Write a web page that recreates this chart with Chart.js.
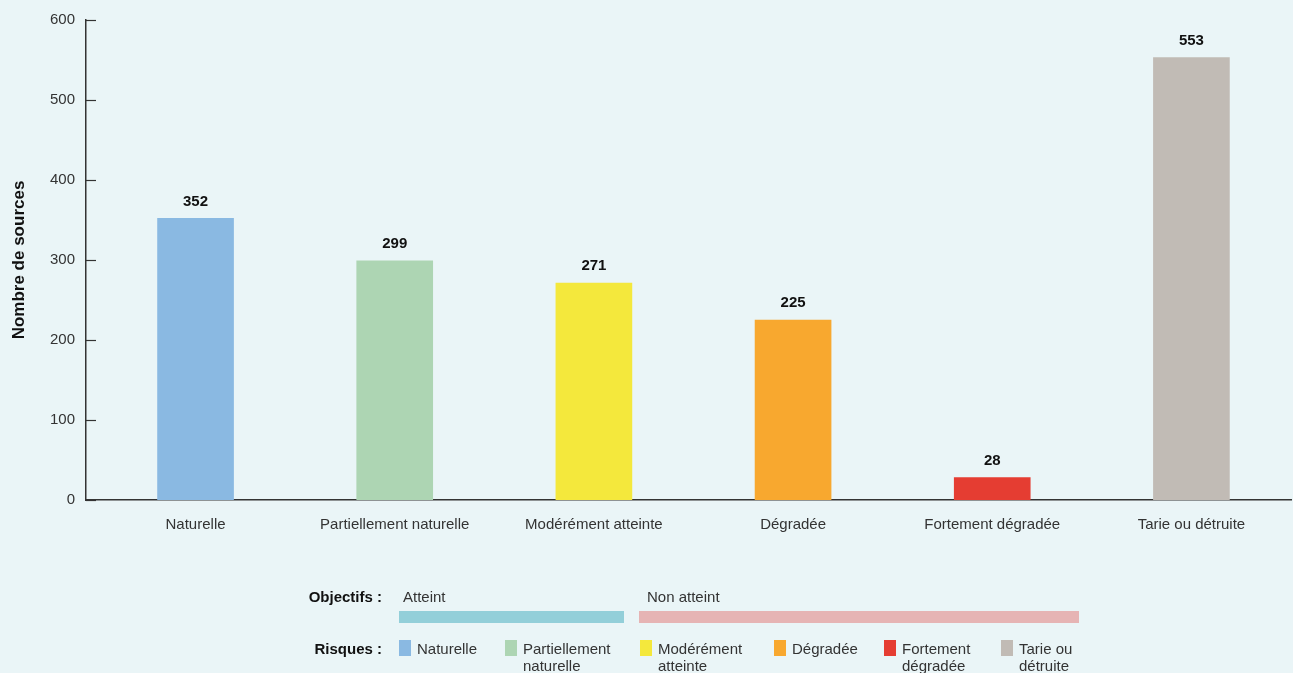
<!DOCTYPE html>
<html>
<head>
<meta charset="utf-8">
<script src="https://cdn.jsdelivr.net/npm/chart.js@4/dist/chart.umd.min.js"></script>
<style>
  html, body { margin: 0; padding: 0; background: #EAF5F7; }
  #wrap { position: relative; width: 1293px; height: 673px; overflow: hidden; font-family: "Liberation Sans", Arial, sans-serif; color: #333; }
  #c { position: absolute; left: 0; top: 0; }
  .t { position: absolute; font-size: 15px; line-height: 17px; white-space: nowrap; }
  .b { font-weight: bold; color: #111; }
  .bar { position: absolute; height: 12px; }
  .sq { position: absolute; width: 12px; height: 16px; }
</style>
</head>
<body>
<div id="wrap">
  <canvas id="c" width="1293" height="673"></canvas>
</div>
<script>
const categories = ["Naturelle", "Partiellement naturelle", "Modérément atteinte", "Dégradée", "Fortement dégradée", "Tarie ou détruite"];
const values = [352, 299, 271, 225, 28, 553];
const barColors = ["#8AB9E2", "#ADD5B3", "#F4E83C", "#F8A82F", "#E53D32", "#C1BBB5"];
const yTicks = [0, 100, 200, 300, 400, 500, 600];
const legendLabels = [["Naturelle"], ["Partiellement", "naturelle"], ["Modérément", "atteinte"], ["Dégradée"], ["Fortement", "dégradée"], ["Tarie ou", "détruite"]];
const objectifLabels = ["Atteint", "Non atteint"];
const objectifColors = ["#93CFD9", "#E6B4B4"];

const valueLabels = {
  id: 'valueLabels',
  afterDatasetsDraw(chart) {
    const ctx = chart.ctx;
    const meta = chart.getDatasetMeta(0);
    ctx.save();
    ctx.font = 'bold 15px "Liberation Sans", Arial, sans-serif';
    ctx.fillStyle = '#111';
    ctx.textAlign = 'center';
    ctx.textBaseline = 'middle';
    meta.data.forEach((bar, i) => {
      ctx.fillText(String(values[i]), bar.x, bar.y - 17);
    });
    ctx.restore();
  }
};

const innerTicks = {
  id: 'innerTicks',
  afterDraw(chart) {
    const y = chart.scales.y;
    const ctx = chart.ctx;
    const left = chart.chartArea.left;
    ctx.save();
    ctx.strokeStyle = '#333';
    ctx.lineWidth = 1.2;
    y.ticks.forEach(t => {
      const py = Math.round(y.getPixelForValue(t.value)) + 0.5;
      ctx.beginPath();
      ctx.moveTo(left, py);
      ctx.lineTo(left + 10, py);
      ctx.stroke();
    });
    ctx.restore();
  }
};

new Chart(document.getElementById('c'), {
  type: 'bar',
  data: {
    datasets: [{
      data: categories.map((c, i) => ({ x: i, y: values[i] })),
      backgroundColor: barColors,
      barThickness: 76,
      borderWidth: 0
    }]
  },
  options: {
    responsive: false,
    animation: false,
    layout: { padding: { top: 19, right: 2, bottom: 133, left: 0 } },
    plugins: { legend: { display: false }, tooltip: { enabled: false } },
    scales: {
      x: {
        type: 'linear',
        min: -0.55,
        max: 5.5,
        offset: false,
        grid: { display: false, drawTicks: false, offset: false },
        border: { display: true, color: '#333', width: 1.5 },
        afterBuildTicks(scale) { scale.ticks = categories.map((c, i) => ({ value: i })); },
        afterFit(scale) { scale.height = 40; },
        ticks: {
          autoSkip: false,
          maxRotation: 0,
          padding: 16,
          color: '#333',
          font: { family: '"Liberation Sans", Arial, sans-serif', size: 15 },
          callback: (v) => categories[v]
        }
      },
      y: {
        min: 0,
        max: 600,
        grid: { display: false, drawTicks: false },
        border: { display: true, color: '#333', width: 1.5 },
        afterBuildTicks(scale) { scale.ticks = yTicks.map(v => ({ value: v })); },
        afterFit(scale) { scale.width = 86; },
        ticks: {
          padding: 11,
          color: '#333',
          font: { family: '"Liberation Sans", Arial, sans-serif', size: 15 }
        },
        title: {
          display: true,
          text: 'Nombre de sources',
          color: '#111',
          padding: { top: 9, bottom: 0 },
          font: { family: '"Liberation Sans", Arial, sans-serif', size: 17, weight: 'bold' }
        }
      }
    }
  },
  plugins: [valueLabels, innerTicks]
});

// Legend (HTML)
const wrap = document.getElementById('wrap');
function addText(txt, x, y, cls, align) {
  const d = document.createElement('div');
  d.className = 't ' + (cls || '');
  d.textContent = txt;
  if (align === 'right') { d.style.right = (1293 - x) + 'px'; } else { d.style.left = x + 'px'; }
  d.style.top = y + 'px';
  wrap.appendChild(d);
  return d;
}
addText('Objectifs :', 382, 588, 'b', 'right');
addText('Risques :', 382, 640, 'b', 'right');
const objX = [[399, 624], [639, 1079]];
const objTextX = [403, 647];
objectifLabels.forEach((l, i) => {
  addText(l, objTextX[i], 588, '');
  const b = document.createElement('div');
  b.className = 'bar';
  b.style.left = objX[i][0] + 'px';
  b.style.width = (objX[i][1] - objX[i][0]) + 'px';
  b.style.top = '611px';
  b.style.background = objectifColors[i];
  wrap.appendChild(b);
});
const sqX = [399, 505, 640, 774, 884, 1001];
legendLabels.forEach((lines, i) => {
  const s = document.createElement('div');
  s.className = 'sq';
  s.style.left = sqX[i] + 'px';
  s.style.top = '640px';
  s.style.background = barColors[i];
  wrap.appendChild(s);
  lines.forEach((ln, j) => addText(ln, sqX[i] + 18, 640 + j * 17, ''));
});
</script>
</body>
</html>
